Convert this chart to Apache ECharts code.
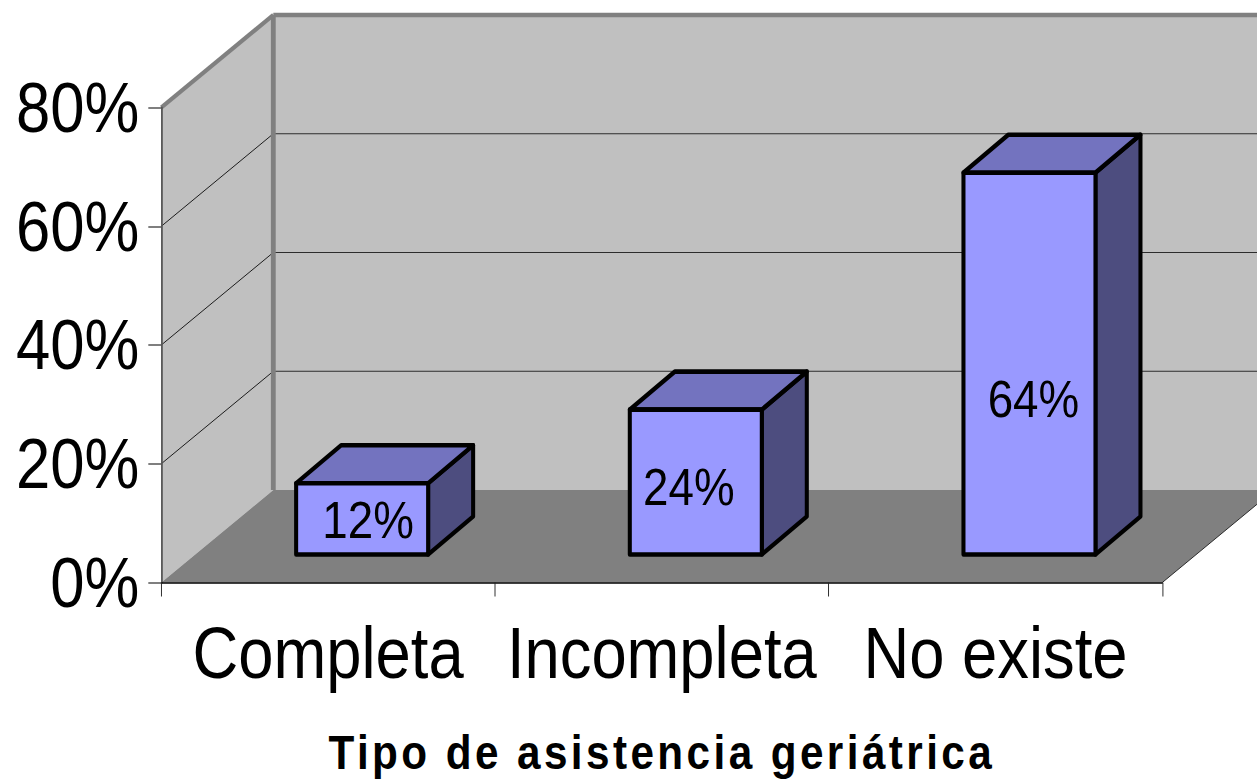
<!DOCTYPE html>
<html lang="es">
<head>
<meta charset="utf-8">
<title>Tipo de asistencia geriátrica</title>
<script src="https://cdn.jsdelivr.net/npm/echarts@6/dist/echarts.min.js"></script>
<style>
html,body{margin:0;padding:0;width:1257px;height:782px;overflow:hidden;background:#fff}
/* the reference's lettering is narrowed horizontally, so the whole drawing is */
#chart{width:1429px;height:782px;transform:scaleX(.88);transform-origin:0 0}
#chart svg text[style*="bold"]{letter-spacing:3.9px}
</style>
</head>
<body>
<div id="chart"></div>
<script>
const categories = ['Completa', 'Incompleta', 'No existe'];
const values = [0.12, 0.244, 0.643];
const yTicks = [0, 0.2, 0.4, 0.6, 0.8];
const axisTitle = 'Tipo de asistencia geriátrica';

const S = 0.88;
const px = v => v / S;
const wallDX = px(112), wallDY = -92.5;
const barDX = px(45), barDY = -38;
const barWidth = px(132), barShiftX = px(34), barLift = 28;
const labelNudge = [[px(6), 1], [px(-7), 5], [px(4), 35]];
const FONT = '"Liberation Sans", Arial, sans-serif';

function renderWalls(params, api) {
  const r = params.coordSys;
  const xL = r.x, xR = r.x + r.width, yB = r.y + r.height, yT = r.y;
  const poly = (points, style) => ({type: 'polygon', shape: {points}, style});
  const line = (x1, y1, x2, y2, stroke, lineWidth) => ({
    type: 'line', shape: {x1, y1, x2, y2}, style: {stroke, lineWidth, fill: null}
  });
  const children = [
    poly([[xL + wallDX, yT + wallDY], [xR + wallDX, yT + wallDY], [xR + wallDX, yB + wallDY], [xL + wallDX, yB + wallDY]], {fill: '#c0c0c0'}),
    poly([[xL, yT], [xL + wallDX, yT + wallDY], [xL + wallDX, yB + wallDY], [xL, yB]], {fill: '#c0c0c0'}),
    poly([[xL, yB], [xL + wallDX, yB + wallDY], [xR + wallDX, yB + wallDY], [xR, yB]], {fill: '#808080'})
  ];
  yTicks.slice(1, -1).forEach(t => {
    const y = api.coord([0, t])[1];
    children.push(line(xL, y, xL + wallDX, y + wallDY, '#111', 1));
    children.push(line(xL + wallDX, y + wallDY, xR + wallDX, y + wallDY, '#222', 1));
  });
  children.push(line(xL + wallDX, yB + wallDY, xL + wallDX, yT + wallDY, '#808080', 5.5));
  children.push(line(xL + wallDX, yT + wallDY, xR + wallDX, yT + wallDY, '#808080', 4.5));
  children.push(line(xL, yT, xL + wallDX, yT + wallDY, '#808080', 4.5));
  children.push(line(xR, yB, xR + wallDX, yB + wallDY, '#222', 1));
  return {type: 'group', children};
}

function renderBar(params, api) {
  const i = api.value(0), v = api.value(1);
  const cx = api.coord([i, 0])[0] + barShiftX;
  const y0 = api.coord([i, 0])[1] - barLift;
  const y1 = api.coord([i, v])[1] - barLift;
  const l = cx - barWidth / 2, r = cx + barWidth / 2;
  const edge = {stroke: '#000', lineWidth: 4.6, lineJoin: 'round'};
  const face = (points, fill) => ({type: 'polygon', shape: {points}, style: Object.assign({fill}, edge)});
  const n = labelNudge[params.dataIndex];
  return {type: 'group', children: [
    face([[r, y0], [r + barDX, y0 + barDY], [r + barDX, y1 + barDY], [r, y1]], '#4d4d7f'),
    face([[l, y1], [l + barDX, y1 + barDY], [r + barDX, y1 + barDY], [r, y1]], '#7373bf'),
    face([[l, y1], [r, y1], [r, y0], [l, y0]], '#9999ff'),
    {type: 'text', style: {
      text: Math.round(v * 100) + '%',
      x: cx + n[0], y: (y0 + y1) / 2 + n[1],
      align: 'center', verticalAlign: 'middle',
      fontSize: 52, fontFamily: FONT, fill: '#000'
    }}
  ]};
}

const chart = echarts.init(document.getElementById('chart'), null, {renderer: 'svg'});
chart.setOption({
  animation: false,
  backgroundColor: '#fff',
  grid: {left: px(161.3), top: 107.5, width: px(1001), height: 475, outerBoundsMode: 'none'},
  xAxis: {
    type: 'category',
    data: categories,
    z: 5,
    axisLine: {lineStyle: {color: '#000', width: 1.5}},
    axisTick: {show: true, length: 14, interval: 0, lineStyle: {color: '#222', width: 1}},
    axisLabel: {fontSize: 72, fontFamily: FONT, color: '#000', margin: 35, interval: 0, hideOverlap: false},
    name: axisTitle,
    nameLocation: 'middle',
    nameGap: 146,
    nameTextStyle: {fontSize: 48, fontWeight: 'bold', fontFamily: FONT, color: '#000'}
  },
  yAxis: {
    type: 'value',
    min: 0,
    max: 0.8,
    interval: 0.2,
    z: 5,
    axisLine: {show: true, lineStyle: {color: '#555', width: 2}},
    axisTick: {show: true, length: px(13), lineStyle: {color: '#555', width: 1.5}},
    splitLine: {show: false},
    axisLabel: {
      fontSize: 70, fontFamily: FONT, color: '#000', margin: px(22), padding: [6, 0, 0, 0],
      formatter: v => Math.round(v * 100) + '%'
    }
  },
  series: [
    {type: 'custom', z: 1, silent: true, renderItem: renderWalls, data: [[0, 0]], encode: {x: 0, y: 1}},
    {type: 'custom', z: 3, silent: true, renderItem: renderBar,
     data: values.map((v, i) => [i, v]), encode: {x: 0, y: 1}}
  ]
});
</script>
</body>
</html>
